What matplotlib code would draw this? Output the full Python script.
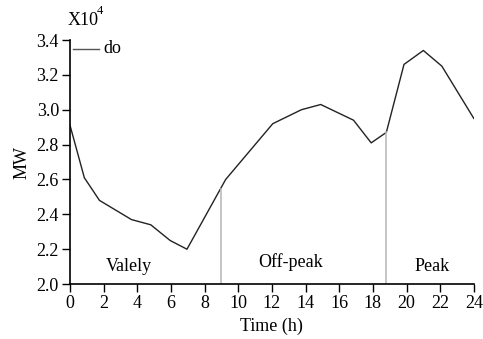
import matplotlib
matplotlib.use('Agg')
import matplotlib.pyplot as plt

# load curve (time in h, load in 1e4 MW)
hours = [0, 0.85, 1.75, 3.65, 4.8, 5.95, 6.95, 9.25, 12.05, 13.75, 14.9, 16.85, 17.9, 18.8, 19.85, 21.0, 22.1, 24.0]
load = [2.91, 2.61, 2.48, 2.37, 2.34, 2.25, 2.20, 2.60, 2.92, 3.00, 3.03, 2.94, 2.81, 2.87, 3.26, 3.34, 3.25, 2.95]

# period boundaries and labels
bounds = [8.95, 18.8]
period_names = ['Valely', 'Off-peak', 'Peak']
period_x = [3.5, 13.1, 21.5]
period_y = [2.10, 2.125, 2.10]

plt.rcParams['font.family'] = ['Liberation Serif', 'DejaVu Serif']

fig = plt.figure(figsize=(4.83, 3.39), dpi=100)
ax = fig.add_axes([0.145, 0.162, 0.836, 0.72])

ax.plot(hours, load, color='#222222', lw=1.0)

# gray lines from the axis up to the curve
for b in bounds:
    top = 0
    for i in range(len(hours) - 1):
        if hours[i] <= b <= hours[i + 1]:
            f = (b - hours[i]) / (hours[i + 1] - hours[i])
            top = load[i] + f * (load[i + 1] - load[i])
    ax.plot([b, b], [2.0, top], color='#bbbbbb', lw=1.2)

for name, x, y in zip(period_names, period_x, period_y):
    ax.text(x, y, name, ha='center', va='center', fontsize=13)

# legend-like marker at top left
ax.plot([0.15, 1.7], [3.35, 3.35], color='#555555', lw=1.0)
ax.text(2.0, 3.35, 'do', ha='left', va='center', fontsize=13)

ax.set_xlim(0, 24)
ax.set_ylim(2.0, 3.4)
ax.set_xticks(range(0, 25, 2))
ax.set_yticks([2.0, 2.2, 2.4, 2.6, 2.8, 3.0, 3.2, 3.4])
ax.set_yticklabels(['2.0', '2.2', '2.4', '2.6', '2.8', '3.0', '3.2', '3.4'])
ax.spines['top'].set_visible(False)
ax.spines['right'].set_visible(False)
for s in ['left', 'bottom']:
    ax.spines[s].set_linewidth(1.2)
ax.tick_params(direction='out', length=6, width=1.0, labelsize=13, pad=2)
ax.set_xlabel('Time (h)', fontsize=13, labelpad=4)
ax.set_ylabel('MW', fontsize=13, labelpad=4)

fig.text(0.139, 0.941, 'X10', fontsize=13, va='center')
fig.text(0.201, 0.968, '4', fontsize=9, va='center')

fig.savefig('out.png', dpi=100)
